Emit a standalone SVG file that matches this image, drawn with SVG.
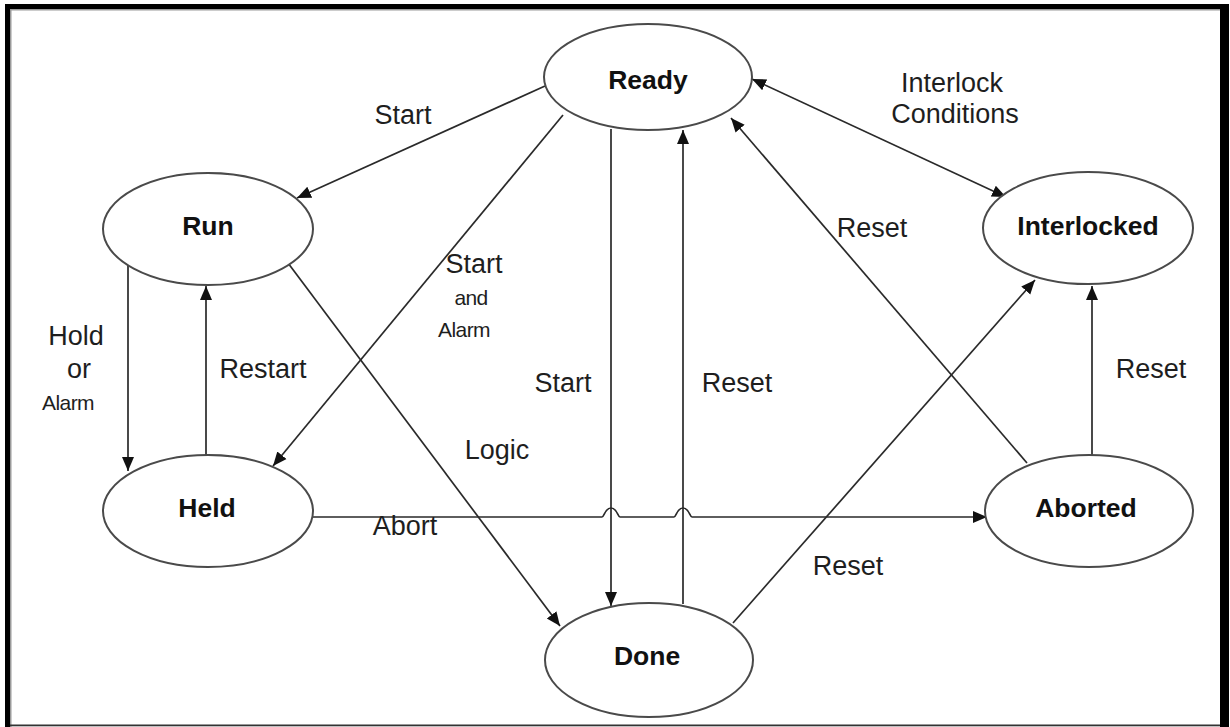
<svg xmlns="http://www.w3.org/2000/svg" width="1230" height="727" viewBox="0 0 1230 727">
<style>
.node ellipse{fill:#fff;stroke:#4a4a4a;stroke-width:2}
.node text{font-family:"Liberation Sans",Arial,sans-serif;font-weight:bold;font-size:26.5px;fill:#111;text-anchor:middle}
.edge{fill:none;stroke:#2a2a2a;stroke-width:1.7}
.lbl{font-family:"Liberation Sans",Arial,sans-serif;font-size:27px;fill:#1e1e1e;text-anchor:middle}
.sm{font-size:21px;letter-spacing:-0.6px}
</style>
<defs>
<marker id="ah" markerUnits="userSpaceOnUse" markerWidth="16" markerHeight="14" refX="14" refY="6" orient="auto-start-reverse" viewBox="0 0 16 12">
<path d="M0,0 L14,6 L0,12 z" fill="#111"/>
</marker>
</defs>
<rect x="0" y="0" width="1230" height="727" fill="#fff"/>
<g id="frame">
<rect x="5" y="4" width="1224" height="5" fill="#000"/>
<rect x="5" y="4" width="5" height="723" fill="#000"/>
<rect x="1220" y="4" width="9" height="723" fill="#000"/>
<rect x="10" y="9" width="1210" height="1.5" fill="#9a9a9a"/>
<rect x="10" y="9" width="1.5" height="718" fill="#9a9a9a"/>
<rect x="10" y="724.5" width="1210" height="1.8" fill="#333"/>
</g>
<g id="connectors">
<path class="edge" d="M545,86 L297,198" marker-end="url(#ah)"/>
<path class="edge" d="M563,115 L273,466" marker-end="url(#ah)"/>
<path class="edge" d="M611,129 L611,606" marker-end="url(#ah)"/>
<path class="edge" d="M683,604 L683,130" marker-end="url(#ah)"/>
<path class="edge" d="M288,263 L560,626" marker-end="url(#ah)"/>
<path class="edge" d="M128,263 L128,471" marker-end="url(#ah)"/>
<path class="edge" d="M206,456 L206,286" marker-end="url(#ah)"/>
<path class="edge" d="M312,517 H602 C604,517 605,508 611,508 C617,508 618,517 620,517 H674 C676,517 677,508 683,508 C689,508 690,517 692,517 H987" marker-end="url(#ah)"/>
<path class="edge" d="M1027,463 L731,118" marker-end="url(#ah)"/>
<path class="edge" d="M1092,456 L1092,286" marker-end="url(#ah)"/>
<path class="edge" d="M733,623 L1035,280" marker-end="url(#ah)"/>
<path class="edge" d="M752,79 L1006,197" marker-start="url(#ah)" marker-end="url(#ah)"/>
</g>
<g id="labels">
<text class="lbl" x="403" y="124">Start</text>
<text class="lbl" x="952" y="92">Interlock</text>
<text class="lbl" x="955" y="123">Conditions</text>
<text class="lbl" x="872" y="237">Reset</text>
<text class="lbl" x="474" y="273">Start</text>
<text class="lbl sm" x="471" y="305">and</text>
<text class="lbl sm" x="464" y="337">Alarm</text>
<text class="lbl" x="76" y="345">Hold</text>
<text class="lbl" x="79" y="378">or</text>
<text class="lbl sm" x="68" y="410">Alarm</text>
<text class="lbl" x="263" y="378">Restart</text>
<text class="lbl" x="563" y="392">Start</text>
<text class="lbl" x="737" y="392">Reset</text>
<text class="lbl" x="1151" y="378">Reset</text>
<text class="lbl" x="497" y="459">Logic</text>
<text class="lbl" x="405" y="535">Abort</text>
<text class="lbl" x="848" y="575">Reset</text>
</g>
<g id="node-ready" class="node"><ellipse cx="648" cy="77" rx="104" ry="53"/><text x="648" y="89">Ready</text></g>
<g id="node-run" class="node"><ellipse cx="208" cy="229" rx="105" ry="56"/><text x="208" y="235">Run</text></g>
<g id="node-held" class="node"><ellipse cx="208" cy="511" rx="105" ry="56"/><text x="207" y="517">Held</text></g>
<g id="node-done" class="node"><ellipse cx="649" cy="660" rx="104" ry="57"/><text x="647" y="665">Done</text></g>
<g id="node-interlocked" class="node"><ellipse cx="1088" cy="228" rx="105" ry="56"/><text x="1088" y="235">Interlocked</text></g>
<g id="node-aborted" class="node"><ellipse cx="1089" cy="511" rx="104" ry="56"/><text x="1086" y="517">Aborted</text></g>
</svg>
